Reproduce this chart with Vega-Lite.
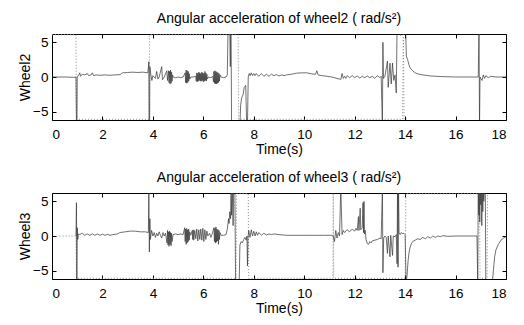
{
"$schema": "https://vega.github.io/schema/vega-lite/v6.json",
"background": "white",
"padding": {"left": 18, "top": 11, "right": 10, "bottom": 5},
"spacing": 13,
"config": {
 "font": "Liberation Sans",
 "view": {"stroke": "#000", "strokeWidth": 1},
 "title": {"fontSize": 14, "fontWeight": "normal", "color": "#000", "font": "Liberation Sans", "offset": 8},
 "axis": {"domain": false, "grid": false, "tickColor": "#000", "tickSize": -4, "labelColor": "#000", "labelFontSize": 13.5, "labelFont": "Liberation Sans", "titleFont": "Liberation Sans", "titleFontSize": 14, "titleFontWeight": "normal", "titleColor": "#000", "labelPadding": 8},
 "axisBottom": {"labelPadding": 11, "titlePadding": 2},
 "axisLeft": {"titlePadding": 0}
},
"datasets": {
 "w2": [{"t":0,"v":0},{"t":0.5,"v":0},{"t":0.9,"v":-0.05},{"t":0.95,"v":0},{"t":0.97,"v":-7},{"t":0.99,"v":-7},{"t":1.0,"v":0.1},{"t":1.05,"v":0.2},{"t":1.1,"v":0.6},{"t":1.13,"v":0.1},{"t":1.2,"v":0.4},{"t":1.3,"v":0.3},{"t":1.4,"v":0.5},{"t":1.45,"v":0.2},{"t":1.55,"v":0.3},{"t":1.6,"v":0.6},{"t":1.65,"v":0.2},{"t":1.75,"v":0.3},{"t":1.9,"v":0.25},{"t":2.1,"v":0.3},{"t":2.3,"v":0.25},{"t":2.5,"v":0.3},{"t":2.7,"v":0.35},{"t":2.8,"v":0.6},{"t":3.0,"v":0.65},{"t":3.2,"v":0.7},{"t":3.4,"v":0.65},{"t":3.6,"v":0.7},{"t":3.8,"v":0.6},{"t":3.84,"v":2.2},{"t":3.85,"v":-7},{"t":3.87,"v":-7},{"t":3.88,"v":1.5},{"t":3.92,"v":0.3},{"t":3.96,"v":-0.5},{"t":4.0,"v":0.2},{"t":4.1,"v":-0.2},{"t":4.15,"v":0.8},{"t":4.2,"v":-0.3},{"t":4.25,"v":0},{"t":4.35,"v":1.5},{"t":4.38,"v":-0.4},{"t":4.45,"v":0},{"t":4.55,"v":0.9},{"t":4.58,"v":-0.5},{"t":4.62,"v":0.9},{"t":4.64,"v":-0.8},{"t":4.66,"v":0.8},{"t":4.68,"v":-1.0},{"t":4.7,"v":1.0},{"t":4.72,"v":-0.9},{"t":4.74,"v":0.7},{"t":4.76,"v":-0.6},{"t":4.78,"v":0.3},{"t":4.8,"v":0},{"t":4.9,"v":-0.1},{"t":5.0,"v":0},{"t":5.1,"v":-0.1},{"t":5.2,"v":0},{"t":5.28,"v":0.6},{"t":5.3,"v":-0.8},{"t":5.32,"v":1.0},{"t":5.34,"v":-0.9},{"t":5.36,"v":0.9},{"t":5.38,"v":-0.8},{"t":5.4,"v":0.8},{"t":5.42,"v":-0.6},{"t":5.44,"v":0.5},{"t":5.46,"v":-0.3},{"t":5.5,"v":0},{"t":5.6,"v":0},{"t":5.7,"v":0.1},{"t":5.72,"v":-0.6},{"t":5.74,"v":0.6},{"t":5.76,"v":-0.7},{"t":5.78,"v":0.5},{"t":5.8,"v":-0.6},{"t":5.82,"v":0.7},{"t":5.84,"v":-0.5},{"t":5.86,"v":0.6},{"t":5.88,"v":-0.6},{"t":5.9,"v":0.5},{"t":5.92,"v":-0.6},{"t":5.94,"v":0.7},{"t":5.96,"v":-0.5},{"t":5.98,"v":0.6},{"t":6.0,"v":-0.7},{"t":6.02,"v":0.5},{"t":6.04,"v":-0.6},{"t":6.06,"v":0.8},{"t":6.08,"v":-0.5},{"t":6.1,"v":0.6},{"t":6.12,"v":-0.6},{"t":6.14,"v":0.4},{"t":6.16,"v":-0.3},{"t":6.2,"v":0},{"t":6.3,"v":-0.1},{"t":6.38,"v":0.1},{"t":6.4,"v":-0.7},{"t":6.42,"v":0.8},{"t":6.44,"v":-0.9},{"t":6.46,"v":0.9},{"t":6.48,"v":-1.0},{"t":6.5,"v":0.8},{"t":6.52,"v":-1.0},{"t":6.54,"v":0.7},{"t":6.56,"v":-0.9},{"t":6.58,"v":0.6},{"t":6.6,"v":-0.8},{"t":6.62,"v":0.5},{"t":6.64,"v":-0.6},{"t":6.66,"v":0.3},{"t":6.7,"v":0},{"t":6.8,"v":-0.1},{"t":6.9,"v":0},{"t":6.95,"v":0.3},{"t":6.98,"v":7},{"t":7.05,"v":7},{"t":7.07,"v":1.5},{"t":7.08,"v":7},{"t":7.1,"v":7},{"t":7.12,"v":-7},{"t":7.45,"v":-7},{"t":7.48,"v":-4},{"t":7.52,"v":-3},{"t":7.58,"v":-2.5},{"t":7.62,"v":-1.5},{"t":7.68,"v":-1.2},{"t":7.72,"v":-7},{"t":7.75,"v":-7},{"t":7.78,"v":0},{"t":7.82,"v":0.5},{"t":7.85,"v":0.2},{"t":7.9,"v":0.6},{"t":7.95,"v":0.2},{"t":8.0,"v":0.5},{"t":8.05,"v":0.2},{"t":8.1,"v":0.5},{"t":8.2,"v":0.1},{"t":8.3,"v":0.5},{"t":8.4,"v":0.1},{"t":8.5,"v":0.4},{"t":8.6,"v":0.1},{"t":8.7,"v":0.4},{"t":8.8,"v":0.2},{"t":8.9,"v":0.35},{"t":9.0,"v":0.15},{"t":9.1,"v":0.3},{"t":9.2,"v":0.2},{"t":9.3,"v":0.3},{"t":9.5,"v":0.4},{"t":9.7,"v":0.55},{"t":9.9,"v":0.6},{"t":10.1,"v":0.6},{"t":10.3,"v":0.45},{"t":10.45,"v":0.4},{"t":10.5,"v":0.9},{"t":10.55,"v":0.3},{"t":10.7,"v":0.2},{"t":10.9,"v":0.1},{"t":11.1,"v":0},{"t":11.3,"v":-0.2},{"t":11.45,"v":-0.35},{"t":11.5,"v":0.5},{"t":11.55,"v":-0.2},{"t":11.6,"v":0.1},{"t":11.65,"v":-0.2},{"t":11.7,"v":0.2},{"t":11.8,"v":-0.1},{"t":11.9,"v":0.2},{"t":12.0,"v":-0.1},{"t":12.1,"v":0.15},{"t":12.2,"v":-0.15},{"t":12.3,"v":0.1},{"t":12.4,"v":-0.1},{"t":12.5,"v":0.15},{"t":12.6,"v":-0.1},{"t":12.7,"v":0.1},{"t":12.8,"v":-0.2},{"t":12.9,"v":0.2},{"t":13.0,"v":-0.1},{"t":13.05,"v":0.1},{"t":13.1,"v":-7},{"t":13.12,"v":5},{"t":13.14,"v":-0.2},{"t":13.2,"v":0.1},{"t":13.3,"v":2.3},{"t":13.33,"v":-1.5},{"t":13.4,"v":2.0},{"t":13.45,"v":-1.0},{"t":13.5,"v":2.0},{"t":13.55,"v":-0.5},{"t":13.6,"v":0.3},{"t":13.65,"v":-2.3},{"t":13.68,"v":7},{"t":13.8,"v":7},{"t":13.82,"v":6.0},{"t":13.86,"v":7},{"t":14.02,"v":7},{"t":14.05,"v":3.0},{"t":14.1,"v":2.5},{"t":14.15,"v":1.8},{"t":14.2,"v":1.3},{"t":14.3,"v":0.9},{"t":14.4,"v":0.6},{"t":14.5,"v":0.45},{"t":14.7,"v":0.3},{"t":15.0,"v":0.15},{"t":15.5,"v":0.05},{"t":16.0,"v":0},{"t":16.5,"v":0},{"t":16.9,"v":0},{"t":16.93,"v":7},{"t":16.95,"v":-7},{"t":16.97,"v":0},{"t":17.05,"v":-0.5},{"t":17.1,"v":0.3},{"t":17.15,"v":-0.2},{"t":17.2,"v":0.2},{"t":17.3,"v":-0.1},{"t":17.4,"v":0.1},{"t":17.6,"v":0},{"t":18.0,"v":0}],
 "w2d": [{"t":0,"v":6.1},{"t":0.95,"v":6.1},{"t":0.97,"v":-6.1},{"t":3.85,"v":-6.1},{"t":3.87,"v":6.1},{"t":7.38,"v":6.1},{"t":7.4,"v":-6.1},{"t":13.9,"v":-6.1},{"t":13.93,"v":6.1},{"t":13.96,"v":-6.1},{"t":14.05,"v":-6.1}],
 "w3": [{"t":0.95,"v":0},{"t":0.97,"v":4.8},{"t":0.985,"v":-6.5},{"t":1.0,"v":1.2},{"t":1.02,"v":-0.5},{"t":1.05,"v":0.3},{"t":1.1,"v":0.2},{"t":1.2,"v":0.4},{"t":1.3,"v":0.1},{"t":1.4,"v":0.3},{"t":1.5,"v":0.1},{"t":1.6,"v":0.3},{"t":1.7,"v":0.1},{"t":1.8,"v":0.3},{"t":1.9,"v":0.1},{"t":2.0,"v":0.25},{"t":2.1,"v":0.1},{"t":2.2,"v":0.25},{"t":2.3,"v":0.1},{"t":2.4,"v":0.2},{"t":2.6,"v":0.3},{"t":2.7,"v":0.5},{"t":2.9,"v":0.6},{"t":3.1,"v":0.7},{"t":3.3,"v":0.7},{"t":3.5,"v":0.6},{"t":3.7,"v":0.6},{"t":3.82,"v":0.5},{"t":3.84,"v":6.5},{"t":3.86,"v":-2.3},{"t":3.88,"v":2.5},{"t":3.9,"v":-0.5},{"t":3.95,"v":0.8},{"t":4.0,"v":0},{"t":4.05,"v":0.5},{"t":4.1,"v":-0.2},{"t":4.15,"v":0.4},{"t":4.2,"v":0},{"t":4.25,"v":0.6},{"t":4.3,"v":0.1},{"t":4.35,"v":-0.3},{"t":4.4,"v":0.5},{"t":4.45,"v":0},{"t":4.5,"v":0.4},{"t":4.56,"v":-1.0},{"t":4.58,"v":0.8},{"t":4.6,"v":-1.3},{"t":4.62,"v":0.6},{"t":4.64,"v":-1.5},{"t":4.66,"v":0.7},{"t":4.68,"v":-1.2},{"t":4.7,"v":0.5},{"t":4.72,"v":-1.4},{"t":4.74,"v":0.4},{"t":4.76,"v":-0.8},{"t":4.8,"v":0.2},{"t":4.9,"v":0.3},{"t":5.0,"v":0.2},{"t":5.1,"v":0.3},{"t":5.2,"v":0.2},{"t":5.26,"v":1.2},{"t":5.28,"v":-0.8},{"t":5.3,"v":1.0},{"t":5.32,"v":-1.2},{"t":5.34,"v":1.1},{"t":5.36,"v":-1.0},{"t":5.38,"v":0.9},{"t":5.4,"v":-0.8},{"t":5.42,"v":1.0},{"t":5.44,"v":-0.6},{"t":5.46,"v":0.6},{"t":5.5,"v":0.1},{"t":5.56,"v":0.8},{"t":5.58,"v":-0.5},{"t":5.6,"v":0.9},{"t":5.62,"v":-0.6},{"t":5.66,"v":0.8},{"t":5.7,"v":-0.4},{"t":5.74,"v":1.0},{"t":5.78,"v":-0.7},{"t":5.82,"v":0.9},{"t":5.86,"v":-0.5},{"t":5.9,"v":1.0},{"t":5.94,"v":-0.6},{"t":5.98,"v":1.1},{"t":6.02,"v":-0.8},{"t":6.06,"v":0.9},{"t":6.1,"v":-0.5},{"t":6.14,"v":0.7},{"t":6.18,"v":0},{"t":6.25,"v":0.4},{"t":6.3,"v":-0.2},{"t":6.35,"v":0.3},{"t":6.42,"v":1.2},{"t":6.44,"v":-0.8},{"t":6.46,"v":1.1},{"t":6.48,"v":-1.0},{"t":6.5,"v":1.3},{"t":6.52,"v":-0.9},{"t":6.54,"v":1.0},{"t":6.56,"v":-0.7},{"t":6.58,"v":0.9},{"t":6.6,"v":-1.2},{"t":6.62,"v":0.8},{"t":6.64,"v":-0.5},{"t":6.66,"v":0.5},{"t":6.7,"v":0.1},{"t":6.8,"v":0.1},{"t":6.9,"v":0.2},{"t":6.95,"v":1.0},{"t":7.0,"v":2.5},{"t":7.02,"v":1.8},{"t":7.05,"v":3.5},{"t":7.08,"v":2.5},{"t":7.1,"v":6.5},{"t":7.12,"v":3.0},{"t":7.15,"v":7},{"t":7.18,"v":1.5},{"t":7.2,"v":6.5},{"t":7.25,"v":7},{"t":7.28,"v":-7},{"t":7.42,"v":-7},{"t":7.45,"v":-1.3},{"t":7.5,"v":-0.8},{"t":7.55,"v":-1.0},{"t":7.6,"v":-0.5},{"t":7.65,"v":-0.2},{"t":7.7,"v":-0.6},{"t":7.73,"v":0},{"t":7.75,"v":-4.3},{"t":7.77,"v":-0.3},{"t":7.8,"v":0.8},{"t":7.85,"v":-0.2},{"t":7.9,"v":0.9},{"t":7.95,"v":0},{"t":8.0,"v":0.7},{"t":8.05,"v":0},{"t":8.1,"v":0.6},{"t":8.15,"v":0.1},{"t":8.2,"v":0.5},{"t":8.3,"v":0.1},{"t":8.4,"v":0.4},{"t":8.5,"v":0.15},{"t":8.6,"v":0.3},{"t":8.7,"v":0.2},{"t":8.8,"v":0.3},{"t":9.0,"v":0.2},{"t":9.3,"v":0.1},{"t":9.6,"v":0.1},{"t":10.0,"v":0.1},{"t":10.5,"v":0.1},{"t":10.8,"v":0.1},{"t":11.1,"v":0.1},{"t":11.15,"v":0},{"t":11.2,"v":-0.8},{"t":11.25,"v":0.8},{"t":11.3,"v":-0.3},{"t":11.35,"v":0.5},{"t":11.4,"v":0},{"t":11.45,"v":7},{"t":11.5,"v":0.2},{"t":11.55,"v":0.8},{"t":11.6,"v":0.5},{"t":11.7,"v":0.9},{"t":11.8,"v":0.6},{"t":11.9,"v":1.0},{"t":12.0,"v":0.7},{"t":12.05,"v":1.1},{"t":12.1,"v":0.8},{"t":12.15,"v":2.8},{"t":12.17,"v":0.8},{"t":12.22,"v":4.0},{"t":12.24,"v":0.9},{"t":12.3,"v":1.2},{"t":12.33,"v":4.8},{"t":12.35,"v":0.5},{"t":12.37,"v":5.0},{"t":12.39,"v":0.3},{"t":12.42,"v":0.8},{"t":12.45,"v":-0.5},{"t":12.5,"v":-1.1},{"t":12.55,"v":-1.2},{"t":12.6,"v":-0.8},{"t":12.65,"v":-1.0},{"t":12.7,"v":-0.7},{"t":12.8,"v":-0.6},{"t":12.9,"v":-0.5},{"t":13.0,"v":-0.3},{"t":13.05,"v":-0.4},{"t":13.1,"v":7},{"t":13.12,"v":-5.3},{"t":13.15,"v":-0.3},{"t":13.2,"v":0},{"t":13.25,"v":-0.2},{"t":13.3,"v":-2.5},{"t":13.33,"v":0},{"t":13.4,"v":-3.0},{"t":13.43,"v":0.1},{"t":13.5,"v":-2.8},{"t":13.53,"v":0},{"t":13.6,"v":-0.1},{"t":13.65,"v":0.2},{"t":13.68,"v":-4.0},{"t":13.7,"v":7},{"t":13.72,"v":-4.5},{"t":13.74,"v":7},{"t":13.76,"v":0.5},{"t":13.8,"v":0.2},{"t":13.85,"v":0.5},{"t":13.9,"v":0.3},{"t":13.95,"v":0.4},{"t":14.0,"v":0.2},{"t":14.04,"v":-7},{"t":14.08,"v":-5.5},{"t":14.12,"v":-3.5},{"t":14.16,"v":-2.3},{"t":14.2,"v":-1.6},{"t":14.25,"v":-1.1},{"t":14.3,"v":-0.8},{"t":14.4,"v":-0.6},{"t":14.5,"v":-0.4},{"t":14.6,"v":-0.5},{"t":14.7,"v":-0.2},{"t":14.8,"v":-0.4},{"t":14.9,"v":-0.1},{"t":15.0,"v":-0.3},{"t":15.1,"v":0},{"t":15.2,"v":-0.2},{"t":15.3,"v":0},{"t":15.4,"v":-0.1},{"t":15.5,"v":0.05},{"t":15.7,"v":-0.05},{"t":16.0,"v":0},{"t":16.5,"v":0},{"t":16.85,"v":0},{"t":16.88,"v":-7},{"t":16.9,"v":7},{"t":16.92,"v":3.0},{"t":16.94,"v":7},{"t":16.96,"v":2.0},{"t":16.98,"v":7},{"t":17.0,"v":4.5},{"t":17.02,"v":7},{"t":17.04,"v":1.5},{"t":17.06,"v":7},{"t":17.08,"v":3.5},{"t":17.1,"v":6.5},{"t":17.12,"v":5.0},{"t":17.15,"v":7},{"t":17.18,"v":7},{"t":17.2,"v":-7},{"t":17.45,"v":-7},{"t":17.5,"v":-5.0},{"t":17.55,"v":-3.0},{"t":17.6,"v":-2.0},{"t":17.7,"v":-1.2},{"t":17.8,"v":-0.6},{"t":17.9,"v":-0.3},{"t":18.0,"v":-0.1}],
 "w3d": [{"t":0.3,"v":0},{"t":0.95,"v":0},{"t":0.97,"v":-6.1},{"t":7.3,"v":-6.1},{"t":7.32,"v":6.1},{"t":7.78,"v":6.1},{"t":7.8,"v":-6.1},{"t":11.14,"v":-6.1},{"t":11.15,"v":6.1},{"t":11.17,"v":-6.1},{"t":14.0,"v":-6.1},{"t":14.03,"v":6.1},{"t":16.95,"v":6.1},{"t":16.97,"v":-6.1},{"t":17.25,"v":-6.1},{"t":17.27,"v":6.1}]
},
"vconcat": [
 {
  "width": 454, "height": 86,
  "title": {"text": "Angular acceleration of wheel2 ( rad/s²)"},
  "layer": [
   {"data": {"name": "w2d"}, "mark": {"type": "line", "clip": true, "stroke": "#888", "strokeWidth": 1, "strokeDash": [1, 2]},
    "encoding": {
     "x": {"field": "t", "type": "quantitative", "scale": {"domain": [0, 18], "nice": false, "zero": false}, "axis": {"orient": "bottom", "values": [0,2,4,6,8,10,12,14,16,18], "title": "Time(s)"}},
     "y": {"field": "v", "type": "quantitative", "scale": {"domain": [-6.2, 6.2], "nice": false, "zero": false}, "axis": {"orient": "left", "values": [-5,0,5], "title": "Wheel2"}}}},
   {"data": {"name": "w2"}, "mark": {"type": "line", "clip": true, "stroke": "#333", "strokeWidth": 0.7},
    "encoding": {
     "x": {"field": "t", "type": "quantitative", "axis": {"orient": "top", "values": [0,2,4,6,8,10,12,14,16,18], "labels": false, "title": null}},
     "y": {"field": "v", "type": "quantitative", "axis": {"orient": "right", "values": [-5,0,5], "labels": false, "title": null}}}}
  ],
  "resolve": {"axis": {"x": "independent", "y": "independent"}}
 },
 {
  "width": 454, "height": 86,
  "title": {"text": "Angular acceleration of wheel3 ( rad/s²)"},
  "layer": [
   {"data": {"name": "w3d"}, "mark": {"type": "line", "clip": true, "stroke": "#888", "strokeWidth": 1, "strokeDash": [1, 2]},
    "encoding": {
     "x": {"field": "t", "type": "quantitative", "scale": {"domain": [0, 18], "nice": false, "zero": false}, "axis": {"orient": "bottom", "values": [0,2,4,6,8,10,12,14,16,18], "title": "Time(s)"}},
     "y": {"field": "v", "type": "quantitative", "scale": {"domain": [-6.2, 6.2], "nice": false, "zero": false}, "axis": {"orient": "left", "values": [-5,0,5], "title": "Wheel3"}}}},
   {"data": {"name": "w3"}, "mark": {"type": "line", "clip": true, "stroke": "#333", "strokeWidth": 0.7},
    "encoding": {
     "x": {"field": "t", "type": "quantitative", "axis": {"orient": "top", "values": [0,2,4,6,8,10,12,14,16,18], "labels": false, "title": null}},
     "y": {"field": "v", "type": "quantitative", "axis": {"orient": "right", "values": [-5,0,5], "labels": false, "title": null}}}}
  ],
  "resolve": {"axis": {"x": "independent", "y": "independent"}}
 }
]
}
